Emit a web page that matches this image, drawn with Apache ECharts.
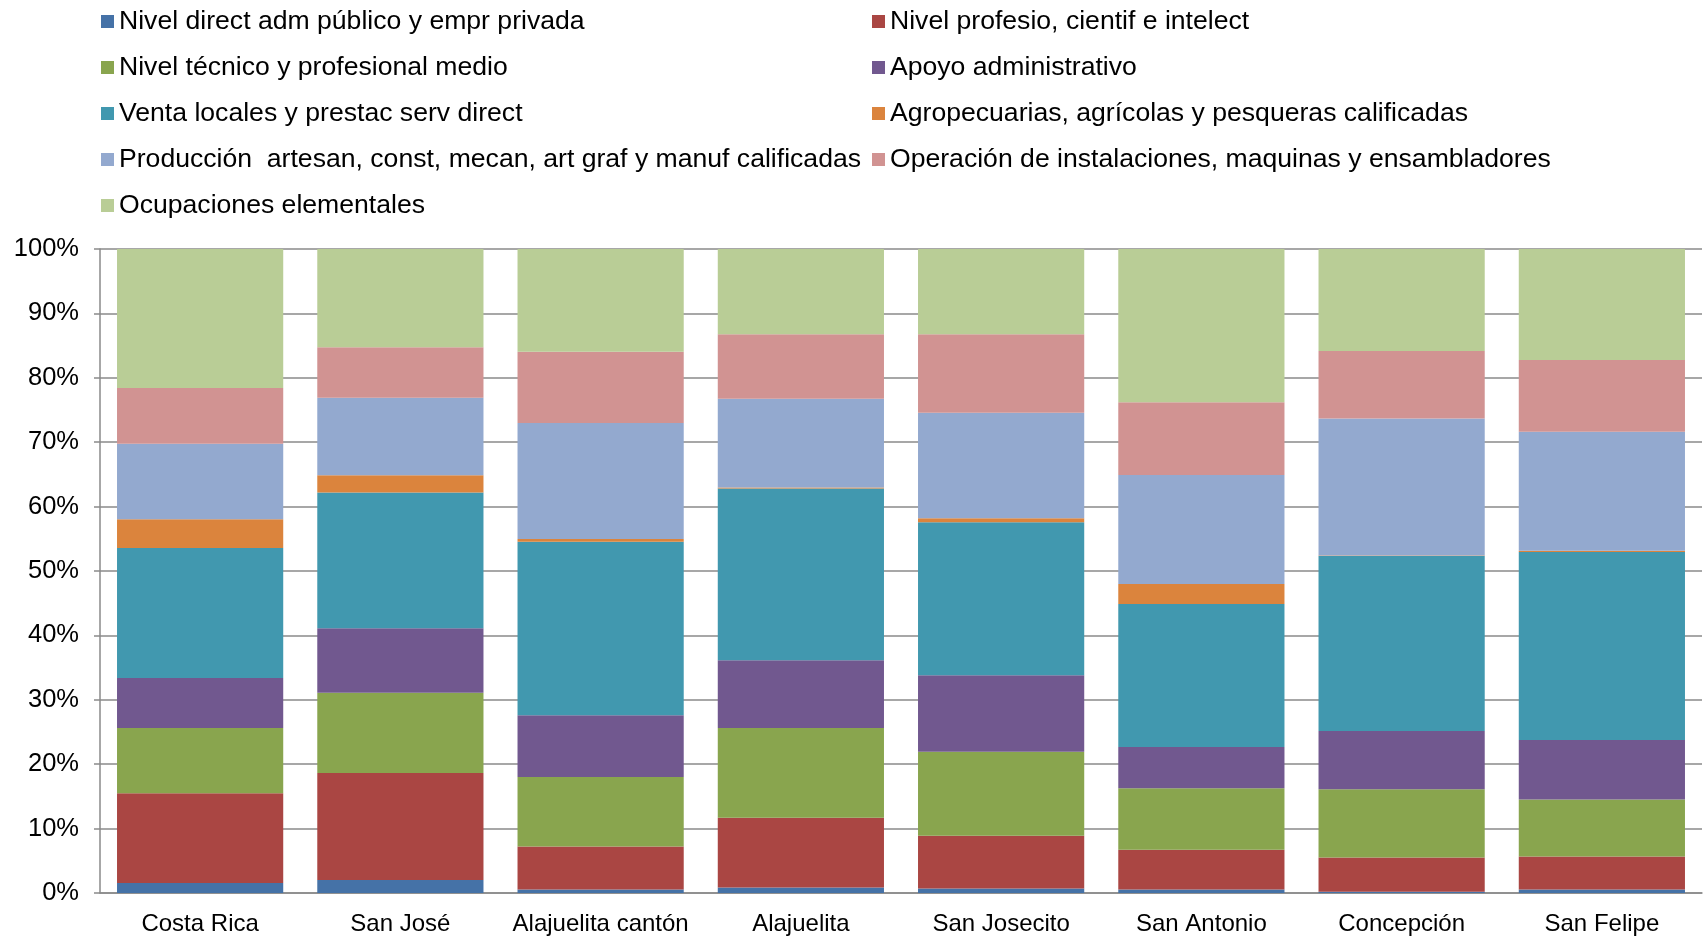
<!DOCTYPE html>
<html>
<head>
<meta charset="utf-8">
<script src="https://cdn.jsdelivr.net/npm/echarts@6/dist/echarts.min.js"></script>
<style>
  html, body { margin: 0; padding: 0; background: #fff; }
  #chart { width: 1705px; height: 936px; }
</style>
</head>
<body>
<div id="chart"></div>
<script>
// categorías (distritos)
const categories = ['Costa Rica', 'San José', 'Alajuelita cantón', 'Alajuelita', 'San Josecito', 'San Antonio', 'Concepción', 'San Felipe']

// porcentaje de ocupados por grupo ocupacional
const directivos = [1.54, 2.03, 0.56, 0.84, 0.70, 0.56, 0.21, 0.56]
const profesionales = [13.94, 16.60, 6.65, 10.85, 8.19, 6.16, 5.32, 5.11]
const tecnicos = [10.15, 12.46, 10.79, 13.94, 13.03, 9.53, 10.58, 8.83]
const apoyoAdmin = [7.77, 10.02, 9.59, 10.50, 11.90, 6.44, 9.03, 9.24]
const ventas = [20.17, 21.08, 26.96, 26.69, 23.74, 22.20, 27.17, 29.20]
const agropecuarias = [4.48, 2.66, 0.42, 0.14, 0.63, 3.08, 0.10, 0.21]
const produccion = [11.70, 12.04, 18.00, 13.79, 16.39, 16.95, 21.26, 18.49]
const operacion = [8.68, 7.84, 11.06, 10.01, 12.18, 11.27, 10.50, 11.13]
const elementales = [21.57, 15.27, 15.97, 13.24, 13.24, 23.81, 15.83, 17.23]

const seriesNames = [
  'Nivel direct adm público y empr privada',
  'Nivel profesio, cientif e intelect',
  'Nivel técnico y profesional medio',
  'Apoyo administrativo',
  'Venta locales y prestac serv direct',
  'Agropecuarias, agrícolas y pesqueras calificadas',
  'Producción  artesan, const, mecan, art graf y manuf calificadas',
  'Operación de instalaciones, maquinas y ensambladores',
  'Ocupaciones elementales'
]
const seriesData = [directivos, profesionales, tecnicos, apoyoAdmin, ventas, agropecuarias, produccion, operacion, elementales]
const colors = ['#4572A7', '#AA4643', '#89A54E', '#71588F', '#4198AF', '#DB843D', '#93A9CF', '#D19392', '#B9CD96']

const font = '"Liberation Sans", Arial, sans-serif'
const axisGray = '#8a8a8a'

const chart = echarts.init(document.getElementById('chart'))

const legendBase = {
  orient: 'vertical',
  icon: 'rect',
  itemWidth: 13,
  itemHeight: 13,
  itemGap: 19,
  top: 3,
  selectedMode: false,
  textStyle: { fontFamily: font, fontSize: 26.6, color: '#000', lineHeight: 26 }
}

const option = {
  animation: false,
  color: colors,
  textStyle: { fontFamily: font },
  legend: [
    { ...legendBase, left: 96, data: seriesNames.filter((_, i) => i % 2 === 0) },
    { ...legendBase, left: 867, data: seriesNames.filter((_, i) => i % 2 === 1) }
  ],
  grid: { left: 100, right: 3, top: 249, bottom: 43 },
  xAxis: {
    type: 'category',
    data: categories,
    axisLine: { lineStyle: { color: axisGray, width: 1.5 } },
    axisTick: { length: 6, lineStyle: { color: axisGray, width: 1.5 } },
    axisLabel: { fontFamily: font, fontSize: 24, color: '#000', margin: 19, interval: 0 }
  },
  yAxis: {
    type: 'value',
    min: 0,
    max: 100,
    interval: 10,
    axisLine: { show: true, lineStyle: { color: axisGray, width: 1.5 } },
    axisTick: { show: true, length: 6, lineStyle: { color: axisGray, width: 1.5 } },
    splitLine: { lineStyle: { color: axisGray, width: 1.5 } },
    axisLabel: { fontFamily: font, fontSize: 25.5, color: '#000', margin: 21, formatter: '{value}%' }
  },
  series: seriesNames.map((name, i) => ({
    name,
    type: 'bar',
    stack: 'total',
    barCategoryGap: '17%',
    data: seriesData[i]
  }))
}

chart.setOption(option)
</script>
</body>
</html>
